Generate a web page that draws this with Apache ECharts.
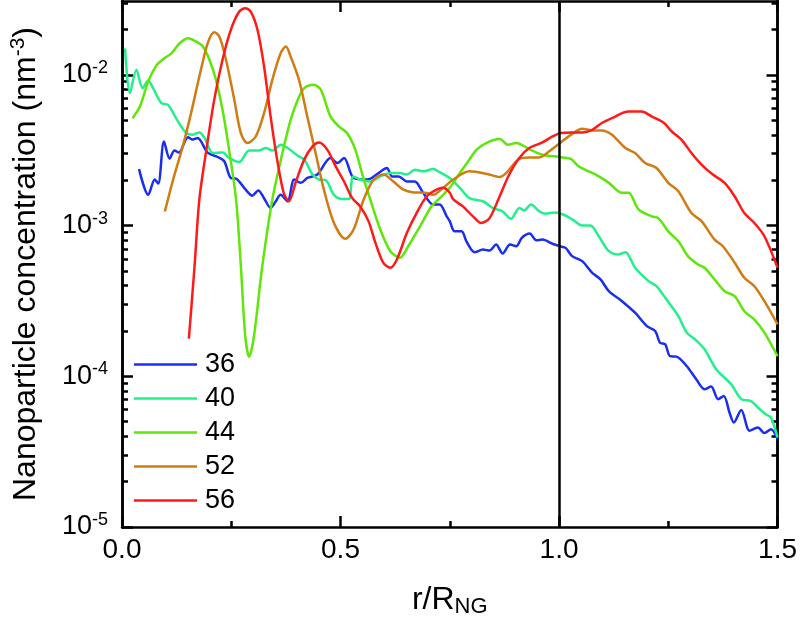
<!DOCTYPE html>
<html>
<head>
<meta charset="utf-8">
<script src="https://cdn.jsdelivr.net/npm/echarts@6/dist/echarts.min.js"></script>
<style>html,body{margin:0;padding:0;background:#fff;overflow:hidden}#c{width:800px;height:623px}</style>
</head>
<body>
<div id="c"></div>
<script>
// r/R_NG , concentration (nm^-3)
const s36 = [[0.039,2.37e-3],[0.060,1.60e-3],[0.075,2.02e-3],[0.083,1.90e-3],[0.096,3.61e-3],[0.109,2.78e-3],[0.120,3.15e-3],[0.130,3.05e-3],[0.151,3.86e-3],[0.162,3.72e-3],[0.173,3.81e-3],[0.196,3.05e-3],[0.219,2.85e-3],[0.234,2.67e-3],[0.249,2.07e-3],[0.261,2.05e-3],[0.283,1.73e-3],[0.298,1.58e-3],[0.312,1.71e-3],[0.325,1.52e-3],[0.340,1.31e-3],[0.352,1.45e-3],[0.363,1.60e-3],[0.379,1.45e-3],[0.394,2.02e-3],[0.409,1.92e-3],[0.424,2.07e-3],[0.447,2.18e-3],[0.477,2.81e-3],[0.493,2.60e-3],[0.508,2.81e-3],[0.530,2.07e-3],[0.561,2.02e-3],[0.587,2.23e-3],[0.606,2.41e-3],[0.618,2.12e-3],[0.633,2.12e-3],[0.652,1.96e-3],[0.670,1.96e-3],[0.689,1.65e-3],[0.712,1.38e-3],[0.727,1.38e-3],[0.743,1.15e-3],[0.750,1.07e-3],[0.761,9.16e-4],[0.777,9.16e-4],[0.788,7.87e-4],[0.807,6.65e-4],[0.826,6.93e-4],[0.841,6.82e-4],[0.856,7.48e-4],[0.871,6.53e-4],[0.888,7.48e-4],[0.902,7.29e-4],[0.915,8.30e-4],[0.933,8.85e-4],[0.948,8.00e-4],[0.962,8.07e-4],[0.985,7.57e-4],[1.002,7.29e-4],[1.015,7.11e-4],[1.030,6.27e-4],[1.053,5.81e-4],[1.076,4.86e-4],[1.095,4.39e-4],[1.114,3.67e-4],[1.144,3.15e-4],[1.174,2.64e-4],[1.201,2.15e-4],[1.220,2.00e-4],[1.231,1.67e-4],[1.243,1.63e-4],[1.254,1.36e-4],[1.269,1.35e-4],[1.292,1.17e-4],[1.314,9.55e-5],[1.333,8.20e-5],[1.348,8.55e-5],[1.364,7.05e-5],[1.377,7.41e-5],[1.390,5.75e-5],[1.400,4.93e-5],[1.417,5.98e-5],[1.436,4.35e-5],[1.455,4.57e-5],[1.470,4.20e-5],[1.485,4.46e-5],[1.500,3.83e-5]];
const s40 = [[0.007,1.50e-2],[0.018,7.57e-3],[0.033,1.08e-2],[0.047,8.17e-3],[0.060,9.16e-3],[0.071,8.17e-3],[0.090,6.50e-3],[0.105,6.33e-3],[0.128,4.91e-3],[0.147,4.11e-3],[0.162,4.01e-3],[0.177,4.15e-3],[0.189,3.81e-3],[0.208,3.03e-3],[0.230,3.05e-3],[0.245,2.81e-3],[0.268,2.64e-3],[0.291,3.15e-3],[0.314,3.15e-3],[0.329,3.27e-3],[0.344,3.15e-3],[0.364,3.44e-3],[0.379,3.27e-3],[0.402,2.91e-3],[0.417,2.74e-3],[0.436,2.18e-3],[0.451,2.02e-3],[0.466,2.00e-3],[0.485,1.60e-3],[0.504,1.50e-3],[0.519,1.50e-3],[0.529,2.12e-3],[0.545,2.02e-3],[0.568,1.96e-3],[0.591,2.12e-3],[0.614,2.23e-3],[0.636,2.23e-3],[0.652,2.18e-3],[0.670,2.35e-3],[0.689,2.29e-3],[0.712,2.37e-3],[0.727,2.26e-3],[0.750,2.07e-3],[0.773,1.78e-3],[0.795,1.52e-3],[0.826,1.45e-3],[0.848,1.31e-3],[0.871,1.24e-3],[0.890,1.11e-3],[0.909,1.31e-3],[0.920,1.26e-3],[0.936,1.38e-3],[0.955,1.24e-3],[0.970,1.20e-3],[0.989,1.22e-3],[1.011,1.18e-3],[1.030,1.10e-3],[1.053,1.00e-3],[1.072,1.00e-3],[1.091,8.49e-4],[1.114,6.76e-4],[1.136,6.43e-4],[1.152,6.65e-4],[1.174,5.25e-4],[1.205,4.28e-4],[1.223,3.96e-4],[1.243,3.32e-4],[1.273,2.51e-4],[1.292,1.95e-4],[1.311,1.76e-4],[1.333,1.51e-4],[1.360,1.11e-4],[1.394,8.85e-5],[1.417,7.05e-5],[1.439,6.85e-5],[1.455,6.21e-5],[1.473,5.60e-5],[1.485,5.32e-5],[1.500,3.93e-5]];
const s44 = [[0.024,5.16e-3],[0.041,6.17e-3],[0.060,9.04e-3],[0.079,1.16e-2],[0.094,1.27e-2],[0.113,1.39e-2],[0.132,1.62e-2],[0.151,1.75e-2],[0.170,1.66e-2],[0.185,1.54e-2],[0.200,1.26e-2],[0.215,9.27e-3],[0.230,5.86e-3],[0.245,3.18e-3],[0.261,1.49e-3],[0.272,5.37e-4],[0.282,1.85e-4],[0.291,1.35e-4],[0.302,1.85e-4],[0.321,5.37e-4],[0.344,1.49e-3],[0.367,3.03e-3],[0.386,5.04e-3],[0.402,6.82e-3],[0.417,8.17e-3],[0.439,8.59e-3],[0.455,7.96e-3],[0.477,5.30e-3],[0.496,4.55e-3],[0.515,4.11e-3],[0.534,3.18e-3],[0.549,2.23e-3],[0.568,1.49e-3],[0.591,9.42e-4],[0.614,6.76e-4],[0.636,6.11e-4],[0.655,7.29e-4],[0.682,9.89e-4],[0.708,1.34e-3],[0.727,1.52e-3],[0.750,1.78e-3],[0.773,2.23e-3],[0.795,2.74e-3],[0.811,3.18e-3],[0.833,3.53e-3],[0.864,3.75e-3],[0.883,3.44e-3],[0.902,3.53e-3],[0.932,3.22e-3],[0.962,2.95e-3],[0.989,2.88e-3],[1.008,2.83e-3],[1.027,2.77e-3],[1.045,2.47e-3],[1.068,2.29e-3],[1.091,2.12e-3],[1.114,1.92e-3],[1.144,1.65e-3],[1.159,1.65e-3],[1.182,1.28e-3],[1.212,1.15e-3],[1.227,1.12e-3],[1.250,9.16e-4],[1.273,7.87e-4],[1.295,6.27e-4],[1.318,5.52e-4],[1.333,5.25e-4],[1.356,4.39e-4],[1.379,3.67e-4],[1.402,3.40e-4],[1.424,2.70e-4],[1.447,2.38e-4],[1.470,1.95e-4],[1.500,1.36e-4]];
const s52 = [[0.098,1.24e-3],[0.117,2.02e-3],[0.139,3.35e-3],[0.158,5.57e-3],[0.177,9.75e-3],[0.196,1.62e-2],[0.211,1.92e-2],[0.223,1.79e-2],[0.238,1.26e-2],[0.257,6.82e-3],[0.272,4.11e-3],[0.287,3.53e-3],[0.306,3.90e-3],[0.325,5.57e-3],[0.344,9.27e-3],[0.363,1.39e-2],[0.375,1.54e-2],[0.386,1.32e-2],[0.405,9.27e-3],[0.424,5.30e-3],[0.443,3.03e-3],[0.462,1.73e-3],[0.485,1.04e-3],[0.511,8.17e-4],[0.530,9.42e-4],[0.553,1.49e-3],[0.576,2.02e-3],[0.598,2.18e-3],[0.621,1.96e-3],[0.644,1.73e-3],[0.667,1.66e-3],[0.693,1.65e-3],[0.712,1.60e-3],[0.735,1.78e-3],[0.758,2.02e-3],[0.795,2.29e-3],[0.833,2.21e-3],[0.864,2.10e-3],[0.879,2.23e-3],[0.909,2.77e-3],[0.932,2.83e-3],[0.955,2.83e-3],[0.977,3.10e-3],[1.004,3.56e-3],[1.030,4.06e-3],[1.053,4.39e-3],[1.076,4.28e-3],[1.098,4.28e-3],[1.121,4.01e-3],[1.152,3.27e-3],[1.174,3.03e-3],[1.197,2.60e-3],[1.223,2.41e-3],[1.250,1.92e-3],[1.273,1.69e-3],[1.303,1.21e-3],[1.326,1.07e-3],[1.356,8.07e-4],[1.375,7.29e-4],[1.402,5.66e-4],[1.424,4.51e-4],[1.447,3.96e-4],[1.470,3.15e-4],[1.500,2.21e-4]];
const s56 = [[0.153,1.78e-4],[0.166,5.37e-4],[0.177,1.49e-3],[0.193,3.18e-3],[0.211,6.82e-3],[0.230,1.26e-2],[0.249,1.99e-2],[0.268,2.62e-2],[0.282,2.77e-2],[0.295,2.62e-2],[0.310,1.99e-2],[0.325,1.14e-2],[0.340,5.30e-3],[0.355,2.74e-3],[0.370,1.65e-3],[0.382,1.45e-3],[0.398,1.96e-3],[0.417,2.74e-3],[0.436,3.35e-3],[0.451,3.56e-3],[0.470,3.18e-3],[0.489,2.47e-3],[0.508,1.96e-3],[0.527,1.52e-3],[0.545,1.34e-3],[0.564,1.07e-3],[0.580,7.67e-4],[0.598,5.66e-4],[0.614,5.25e-4],[0.629,5.96e-4],[0.652,8.95e-4],[0.674,1.21e-3],[0.697,1.56e-3],[0.720,1.73e-3],[0.735,1.78e-3],[0.750,1.65e-3],[0.758,1.49e-3],[0.780,1.34e-3],[0.803,1.15e-3],[0.822,1.04e-3],[0.841,1.12e-3],[0.864,1.56e-3],[0.886,2.18e-3],[0.909,2.81e-3],[0.932,3.27e-3],[0.962,3.56e-3],[0.985,3.90e-3],[1.004,4.11e-3],[1.030,4.15e-3],[1.053,4.15e-3],[1.076,4.32e-3],[1.098,4.79e-3],[1.121,5.16e-3],[1.159,5.71e-3],[1.189,5.71e-3],[1.212,5.30e-3],[1.239,4.83e-3],[1.258,4.21e-3],[1.280,3.72e-3],[1.303,3.03e-3],[1.326,2.54e-3],[1.352,2.18e-3],[1.379,1.92e-3],[1.402,1.56e-3],[1.424,1.21e-3],[1.447,1.04e-3],[1.470,8.49e-4],[1.500,5.25e-4]];

const seriesNames = ['36', '40', '44', '52', '56'];
const seriesData = [s36, s40, s44, s52, s56];
const colors = ['#1a2ef0', '#22f08c', '#5fe60a', '#d07c14', '#ff1a1a'];
const xTicks = [0, 0.5, 1.0, 1.5];
const yDecades = [-5, -4, -3, -2];   // exponents of 10 for labelled ticks
const yMinExp = -5, yMaxExp = -1.51;
const refLine = 1.0;

const FONT = '"Liberation Sans", Arial, Helvetica, sans-serif';
const minorVals = [];
for (let e = -5; e <= -2; e++) for (let k = 2; k <= 9; k++) {
  const v = Math.log10(k) + e;
  if (v < yMaxExp) minorVals.push(v);
}

function yAxisDef(pos, major) {
  return {
    type: 'value', position: pos, min: yMinExp, max: yMaxExp,
    axisLine: { show: true, onZero: false, lineStyle: { color: '#000', width: 2.5 } },
    axisTick: { show: true, inside: true, length: major ? 11 : 6,
      lineStyle: { color: '#000', width: 2.5 },
      customValues: major ? yDecades : minorVals },
    axisLabel: { show: major && pos === 'left', customValues: yDecades, margin: 14,
      formatter: v => '{b|10}{s|' + Math.round(v) + '}',
      rich: { b: { fontSize: 27, fontFamily: FONT, color: '#000' },
              s: { fontSize: 18, fontFamily: FONT, color: '#000', padding: [0, 0, 14, 0] } } },
    splitLine: { show: false },
    name: (major && pos === 'left') ? 'Nanoparticle concentration (nm{s|-3})' : '',
    nameLocation: 'middle', nameGap: 77,
    nameTextStyle: { fontSize: 32, fontFamily: FONT, color: '#000',
      rich: { s: { fontSize: 21, fontFamily: FONT, color: '#000', padding: [0, 0, 16, 0] } } }
  };
}
function xAxisDef(pos) {
  return {
    type: 'value', position: pos, min: 0, max: 1.5, interval: 0.5,
    axisLine: { show: true, onZero: false, lineStyle: { color: '#000', width: 2.5 } },
    axisTick: { show: true, inside: true, length: 11, lineStyle: { color: '#000', width: 2.5 } },
    minorTick: { show: true, splitNumber: 2, length: 6, lineStyle: { color: '#000', width: 2.5 } },
    axisLabel: { show: pos === 'bottom', margin: 9, fontSize: 28, fontFamily: FONT, color: '#000',
      customValues: xTicks, formatter: v => v.toFixed(1) },
    splitLine: { show: false },
    name: pos === 'bottom' ? '{a|r/R}{b|NG}' : '',
    nameLocation: 'middle', nameGap: 55,
    nameTextStyle: { rich: {
      a: { fontSize: 32, fontFamily: FONT, color: '#000' },
      b: { fontSize: 22, fontFamily: FONT, color: '#000', padding: [14, 0, 0, 0] } } }
  };
}

const chart = echarts.init(document.getElementById('c'), null, { renderer: 'canvas' });
const series = seriesNames.map((n, i) => ({
  name: n, type: 'line', xAxisIndex: 0, yAxisIndex: 0,
  data: seriesData[i].map(p => [p[0], Math.log10(p[1])]),
  showSymbol: false, smooth: 0.3, clip: true,
  lineStyle: { color: colors[i], width: 2.5 }, itemStyle: { color: colors[i] },
  z: 2
}));
series[0].markLine = {
  silent: true, symbol: 'none', animation: false,
  lineStyle: { color: '#000', width: 2.5, type: 'solid' },
  label: { show: false }, data: [{ xAxis: refLine }], z: 5
};

chart.setOption({
  animation: false,
  backgroundColor: '#fff',
  grid: { left: 121, right: 16, top: 1, bottom: 95, containLabel: false },
  xAxis: [xAxisDef('bottom'), xAxisDef('top')],
  yAxis: [yAxisDef('left', true), yAxisDef('left', false), yAxisDef('right', true), yAxisDef('right', false)],
  legend: {
    orient: 'vertical', left: 134, top: 351, padding: 0,
    icon: 'rect', itemWidth: 63, itemHeight: 2.5, itemGap: 7,
    textStyle: { fontSize: 27, fontFamily: FONT, color: '#000', lineHeight: 27, padding: [0, 0, 0, 3] },
    data: seriesNames
  },
  series: series
});
</script>
</body>
</html>
